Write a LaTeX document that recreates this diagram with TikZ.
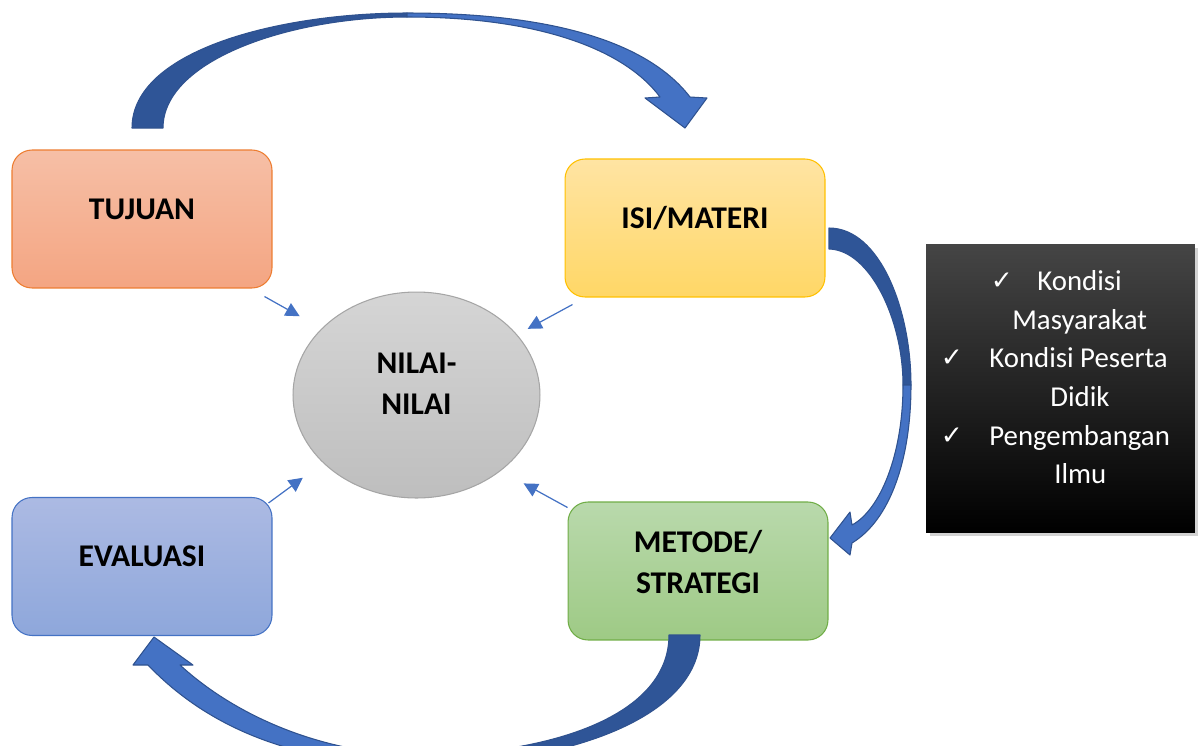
\documentclass[tikz,border=0pt]{standalone}
\usepackage{fontspec}
\setmainfont{Carlito}
\newfontfamily\symfont{DejaVu Sans}
\usetikzlibrary{shapes.geometric,arrows.meta,shadows}

\definecolor{tjtop}{HTML}{F6BFA6}
\definecolor{tjbot}{HTML}{F4A582}
\definecolor{tjline}{HTML}{ED7D31}
\definecolor{isitop}{HTML}{FFE4A3}
\definecolor{isibot}{HTML}{FFD766}
\definecolor{isiline}{HTML}{FFC000}
\definecolor{evtop}{HTML}{ACBAE3}
\definecolor{evbot}{HTML}{8EA7DB}
\definecolor{evline}{HTML}{4472C4}
\definecolor{mttop}{HTML}{B9D9AC}
\definecolor{mtbot}{HTML}{9ECA85}
\definecolor{mtline}{HTML}{70AD47}
\definecolor{nltop}{HTML}{D5D5D5}
\definecolor{nlbot}{HTML}{BEBEBE}
\definecolor{nlline}{HTML}{A5A5A5}
\definecolor{arrowdark}{HTML}{2F5597}
\definecolor{arrowlight}{HTML}{4472C4}
\definecolor{arrowline}{HTML}{2F528F}
\definecolor{faktortop}{HTML}{454545}

\begin{document}
\begin{tikzpicture}[x=0.02cm, y=-0.02cm]
        \tikzstyle{box}=[rectangle, rounded corners=0.4cm, draw, line width=0.6pt, minimum width=5.2cm, minimum height=2.76cm, inner sep=0pt, align=center, font=\fontsize{18}{23.4}\selectfont\bfseries]
        \tikzstyle{oneline}=[text height=11.8pt, text depth=11.8pt]
        \tikzstyle{pointer}=[draw=arrowlight, line width=0.7pt, -{Triangle[length=8pt, width=8pt]}]
        \tikzstyle{bigarrow}=[draw=arrowline, line width=0.6pt, line join=round]
        \tikzstyle{listtext}=[text=white, inner sep=0pt, anchor=base west, font=\fontsize{16.4}{20}\selectfont]
        \tikzstyle{tick}=[text=white, inner sep=0pt, font=\symfont\fontsize{15}{17}\selectfont]
        \clip (0,0) rectangle (1198,745);
        % boxes
        \node[box, oneline, draw=tjline, top color=tjtop, bottom color=tjbot] (tujuan) at (142,219) {TUJUAN};
        \node[box, oneline, draw=isiline, top color=isitop, bottom color=isibot] (isi) at (695,228) {ISI/MATERI};
        \node[box, oneline, draw=evline, top color=evtop, bottom color=evbot] (evaluasi) at (142,566.5) {EVALUASI};
        \node[box, text depth=10.8pt, draw=mtline, top color=mttop, bottom color=mtbot] (metode) at (698,571) {METODE/\\STRATEGI};
        \node[ellipse, draw=nlline, line width=0.6pt, top color=nltop, bottom color=nlbot, minimum width=4.94cm, minimum height=4.12cm, inner sep=0pt, align=center, text depth=12.4pt, font=\fontsize{18}{23.4}\selectfont\bfseries] (nilai) at (416.5,395) {NILAI-\\NILAI};
        % factor box
        \node[rectangle, minimum width=5.38cm, minimum height=5.78cm, top color=faktortop, middle color=black!95, bottom color=black, drop shadow={shadow xshift=2pt, shadow yshift=-2pt, fill=gray!70}] (faktor) at (1060.5,388.5) {};
        \node[tick] (t1) at (1002,281) {✓};
        \node[listtext] (k1) at (1037,290) {Kondisi};
        \node[listtext] (k2) at (1012,329) {Masyarakat};
        \node[tick] (t2) at (952,358) {✓};
        \node[listtext] (k3) at (989,367) {Kondisi Peserta};
        \node[listtext] (k4) at (1050,406) {Didik};
        \node[tick] (t3) at (952,436) {✓};
        \node[listtext] (k5) at (989,445) {Pengembangan};
        \node[listtext] (k6) at (1054,483) {Ilmu};
        % small arrows
        \coordinate (tujuan-tail) at ([shift={(-8,8)}]tujuan.south east);
        \coordinate (isi-tail) at ([shift={(8,7)}]isi.south west);
        \coordinate (evaluasi-tail) at ([shift={(-4,6)}]evaluasi.north east);
        \coordinate (metode-tail) at ([shift={(0,6)}]metode.north west);
        \draw[pointer, shorten >=0.5cm] (tujuan-tail) -- (nilai.145);
        \draw[pointer, shorten >=0.24cm] (isi-tail) -- (nilai.31);
        \draw[pointer, shorten >=0.5cm] (evaluasi-tail) -- (nilai.216);
        \draw[pointer, shorten >=0.52cm] (metode-tail) -- (nilai.318);
        % curved arrows
        \filldraw[bigarrow, fill=arrowdark] (132,128) .. controls (132,50) and (280,13) .. (407,13) -- (407,17) .. controls (290,17) and (163,60) .. (163,128) -- cycle;
        \filldraw[bigarrow, fill=arrowlight] (407,13) .. controls (560,13) and (650,45) .. (690,97) -- (707,98) -- (685,128) -- (645,98) -- (660,97) .. controls (625,50) and (540,17) .. (407,17) -- cycle;
        \filldraw[bigarrow, fill=arrowdark] (829,228) .. controls (880,228) and (911,310) .. (911,385) -- (903,385) .. controls (903,320) and (870,250) .. (829,249) -- cycle;
        \filldraw[bigarrow, fill=arrowlight] (911,385) .. controls (911,460) and (890,520) .. (852,543) -- (850,555) -- (830,538) -- (850,512) -- (852,525) .. controls (880,510) and (903,455) .. (903,385) -- cycle;
        \filldraw[bigarrow, fill=arrowdark] (700,635) .. controls (700,720) and (560,765) .. (420,765) -- (420,755) .. controls (540,755) and (669,720) .. (669,635) -- cycle;
        \filldraw[bigarrow, fill=arrowlight] (420,765) .. controls (300,765) and (210,730) .. (148,665) -- (133,665) -- (154,637) -- (193,665) -- (180,665) .. controls (240,720) and (330,755) .. (420,755) -- cycle;
\end{tikzpicture}
\end{document}
